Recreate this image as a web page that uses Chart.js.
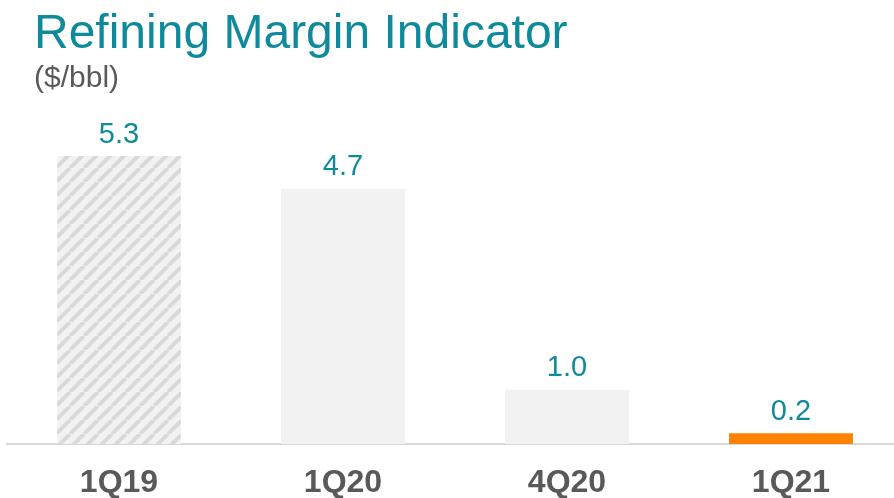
<!DOCTYPE html>
<html>
<head>
<meta charset="utf-8">
<script src="https://cdn.jsdelivr.net/npm/chart.js@4/dist/chart.umd.min.js"></script>
<style>
html, body { margin: 0; padding: 0; background: #fff; overflow: hidden; width: 894px; height: 498px; }
#wrap { position: absolute; left: 0; top: 0; width: 910px; height: 498px; }
#title { position: absolute; left: 34px; top: 4px; font: 48px "Liberation Sans", Arial, sans-serif; color: #0f8a9b; white-space: nowrap; }
#unit { position: absolute; left: 34px; top: 60px; font: 30px "Liberation Sans", Arial, sans-serif; color: #595959; white-space: nowrap; }
</style>
</head>
<body>
<div id="wrap"><canvas id="c" width="910" height="498"></canvas></div>
<div id="title">Refining Margin Indicator</div>
<div id="unit">($/bbl)</div>
<script>
var quarters = ['1Q19', '1Q20', '4Q20', '1Q21'];
var margins = [5.3, 4.7, 1.0, 0.2];
var valueLabels = ['5.3', '4.7', '1.0', '0.2'];

var teal = '#0f8a9b';

// hatched fill for the first bar
function hatch()
{
    var s = 14;
    var t = document.createElement('canvas');
    t.width = s;
    t.height = s;
    var g = t.getContext('2d');
    g.fillStyle = '#f2f2f2';
    g.fillRect(0, 0, s, s);
    g.strokeStyle = '#d9d9d9';
    g.lineWidth = 4;
    g.beginPath();
    [-s, 0, s].forEach(function(k)
    {
        g.moveTo(k, s);
        g.lineTo(k + s, 0);
    });
    g.stroke();
    return g.createPattern(t, 'repeat');
}

var ctx = document.getElementById('c').getContext('2d');

var valuePlugin = {
    id : 'values',
    afterDatasetsDraw : function(chart)
    {
        var c = chart.ctx;
        var meta = chart.getDatasetMeta(0);
        c.save();
        c.font = '29px "Liberation Sans", Arial, sans-serif';
        c.fillStyle = teal;
        c.textAlign = 'center';
        c.textBaseline = 'bottom';
        meta.data.forEach(function(bar, i)
        {
            c.fillText(valueLabels[i], bar.x, bar.y - 7);
        });
        c.restore();
    }
};

new Chart(ctx,
{
    type : 'bar',
    data :
    {
        labels : quarters,
        datasets : [
        {
            data : margins,
            backgroundColor : [hatch(), '#f2f2f2', '#f2f2f2', '#ff8200'],
            borderWidth : 0,
            barPercentage : 0.553,
            categoryPercentage : 1
        }]
    },
    options :
    {
        responsive : false,
        animation : false,
        layout :
        {
            padding : { top : 118, left : 7, right : 7, bottom : 0 }
        },
        plugins :
        {
            legend : { display : false },
            tooltip : { enabled : false }
        },
        scales :
        {
            x :
            {
                grid : { display : false, drawTicks : false },
                border : { display : true, color : '#d9d9d9', width : 2 },
                ticks :
                {
                    padding : 20,
                    color : '#595959',
                    font : { family : '"Liberation Sans", Arial, sans-serif', size : 32, weight : 'bold' }
                },
                afterFit : function(scale)
                {
                    scale.height = 54;
                }
            },
            y :
            {
                display : false,
                min : 0,
                max : 6
            }
        }
    },
    plugins : [valuePlugin]
});
</script>
</body>
</html>
